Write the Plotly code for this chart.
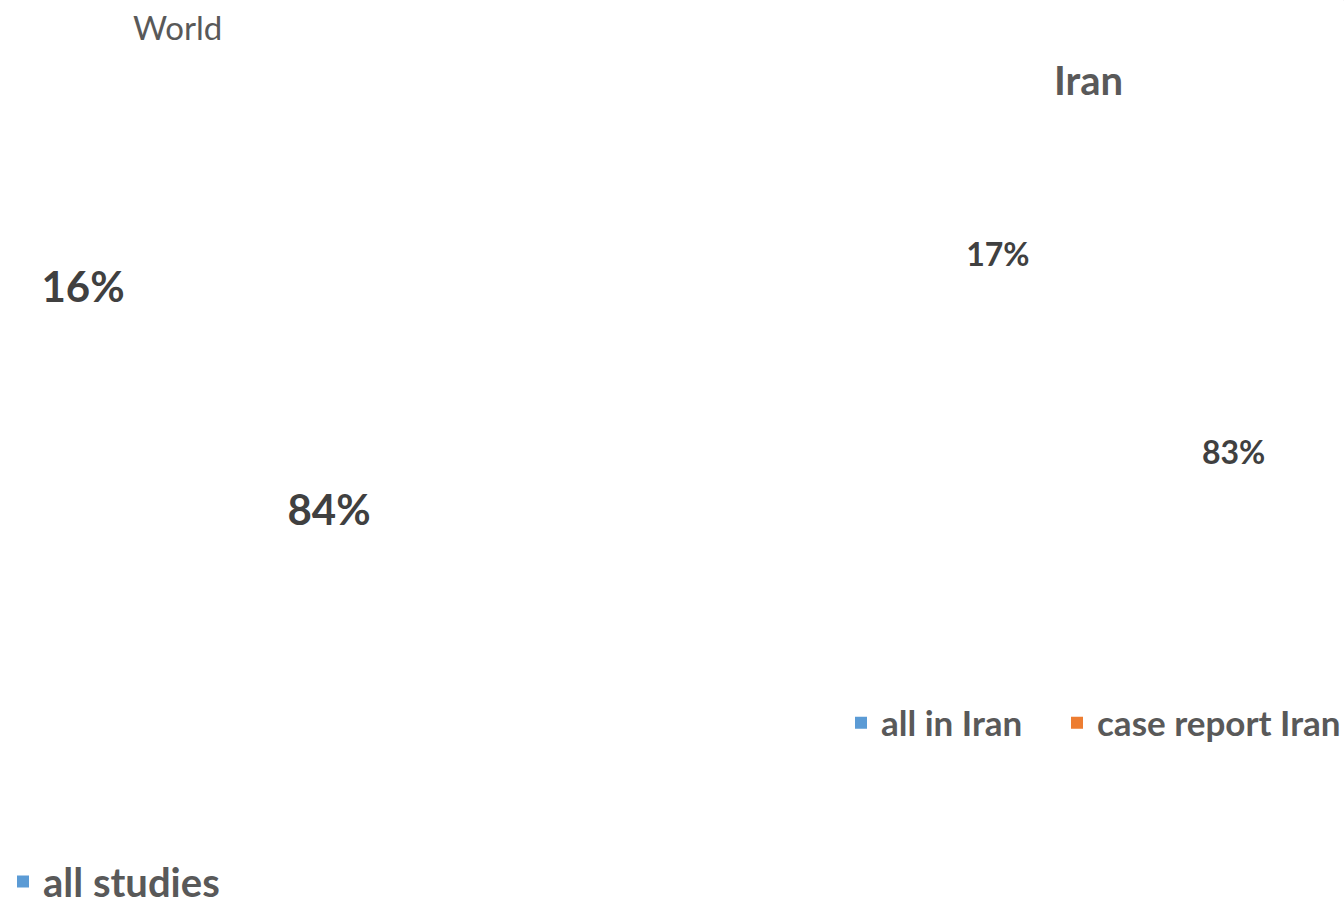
import plotly.graph_objects as go

# ---- data ----
world_labels = ["all studies", "case report"]
world_values = [84, 16]
iran_labels = ["all in Iran", "case report Iran"]
iran_values = [83, 17]
titles = ["World", "Iran"]

# ---- styles ----
slice_colors = ["#5B9BD5", "#ED7D31"]
W, H = 1344, 906
FONT = "Lato"
LBL = "#404040"
TXT = "#595959"


def dom(cx, cy, r):
    return dict(x=[(cx - r) / W, (cx + r) / W],
                y=[1 - (cy + r + 60) / H, 1 - (cy - r - 60) / H])


TINY = dict(x=[0.9997, 1.0], y=[0.9997, 1.0])

fig = go.Figure()

# visible (white) pies carrying the percentage labels
fig.add_trace(go.Pie(
    labels=world_labels, values=world_values, sort=False, direction="clockwise",
    rotation=-7.1, marker=dict(colors=["white", "white"], line=dict(width=0)),
    textinfo="percent", textposition="outside",
    outsidetextfont=dict(family=FONT, size=42, color=LBL, weight="bold"),
    domain=dom(206, 397.5, 117.6), showlegend=False, hoverinfo="label+percent",
))
fig.add_trace(go.Pie(
    labels=iran_labels, values=iran_values, sort=False, direction="clockwise",
    rotation=-10.5, marker=dict(colors=["white", "white"], line=dict(width=0)),
    textinfo="percent", textposition="outside",
    outsidetextfont=dict(family=FONT, size=32, color=LBL, weight="bold"),
    domain=dom(1115.75, 352.5, 116.3), showlegend=False, hoverinfo="label+percent",
))

# legend carriers (coloured slices, near-zero radius)
fig.add_trace(go.Pie(
    labels=world_labels[:1], values=world_values[:1], sort=False,
    marker=dict(colors=slice_colors[:1], line=dict(width=0)), textinfo="none",
    domain=TINY, legend="legend", hoverinfo="skip",
))
fig.add_trace(go.Pie(
    labels=iran_labels[:1], values=iran_values[:1], sort=False,
    marker=dict(colors=slice_colors[:1], line=dict(width=0)), textinfo="none",
    domain=TINY, legend="legend2", legendwidth=171, hoverinfo="skip",
))
fig.add_trace(go.Pie(
    labels=iran_labels[1:], values=iran_values[1:], sort=False,
    marker=dict(colors=slice_colors[1:], line=dict(width=0)), textinfo="none",
    domain=TINY, legend="legend2", hoverinfo="skip",
))

fig.update_layout(
    width=W, height=H,
    margin=dict(l=0, r=0, t=0, b=0, autoexpand=False),
    paper_bgcolor="white", plot_bgcolor="white",
    font=dict(family=FONT, color=TXT),
    annotations=[
        dict(text=titles[0], x=177 / W, y=1 - 27 / H, xref="paper", yref="paper",
             xanchor="center", yanchor="middle", showarrow=False,
             font=dict(family=FONT, size=33, color=TXT)),
        dict(text=titles[1], x=1088 / W, y=1 - 80 / H, xref="paper", yref="paper",
             xanchor="center", yanchor="middle", showarrow=False,
             font=dict(family=FONT, size=40, color=TXT, weight="bold")),
    ],
    legend=dict(orientation="v", x=3 / W, xanchor="left", y=-8 / H, yanchor="bottom",
                font=dict(family=FONT, size=40, color=TXT, weight="bold"),
                bgcolor="rgba(0,0,0,0)"),
    legend2=dict(orientation="h", x=841 / W, xanchor="left", y=1 - 723 / H, yanchor="middle",
                 font=dict(family=FONT, size=35, color=TXT, weight="bold"),
                 bgcolor="rgba(0,0,0,0)"),
)

fig.write_html("out.html")
